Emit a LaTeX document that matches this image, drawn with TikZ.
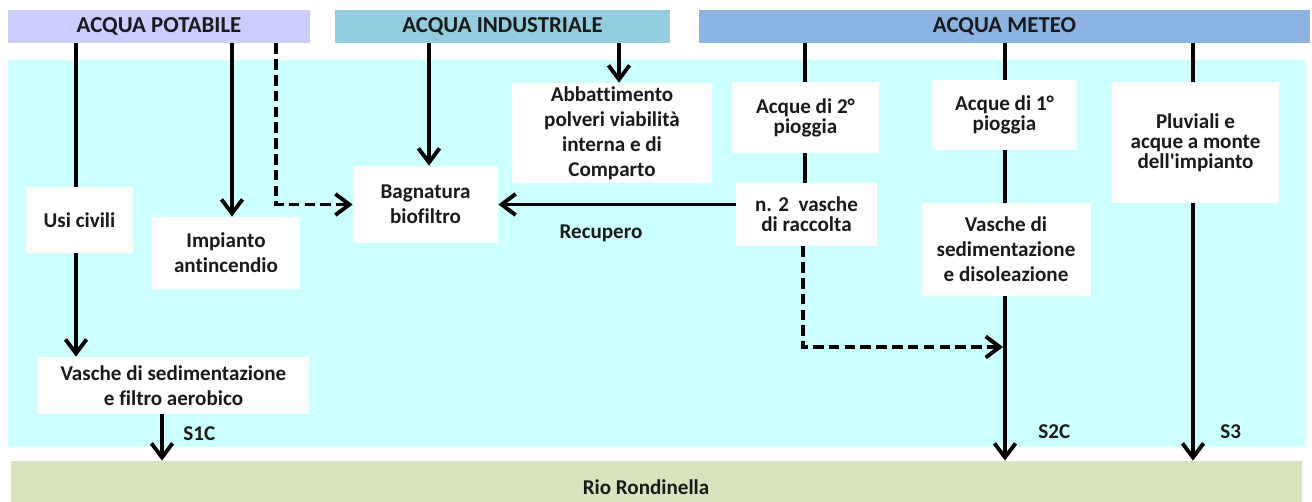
\documentclass[tikz,border=0pt]{standalone}
\usepackage{fontspec}
\setmainfont{Carlito}[Ligatures=NoCommon]
\usetikzlibrary{arrows.meta}
\definecolor{cpot}{HTML}{CCCCFF}
\definecolor{cind}{HTML}{93CDDD}
\definecolor{cmet}{HTML}{8DB3E2}
\definecolor{ccyan}{HTML}{CCFFFF}
\definecolor{crio}{HTML}{D7E4BD}
\definecolor{ctext}{HTML}{1A1A1A}
\begin{document}
\begin{tikzpicture}[x=0.02cm,y=-0.02cm,
  sz/.style 2 args={minimum width={#1*0.02cm}, minimum height={#2*0.02cm}},
  hdr/.style={inner sep=0pt, text=ctext, font=\bfseries\fontsize{13}{15}\selectfont},
  box/.style={fill=white, inner sep=0pt, align=center, text=ctext, font=\bfseries\fontsize{12}{14.2}\selectfont},
  tightbox/.style={box, font=\bfseries\fontsize{12}{11.4}\selectfont},
  lbl/.style={inner sep=0pt, text=ctext, font=\bfseries\fontsize{12}{14}\selectfont},
  plain/.style={line width=2.2pt, black},
  flow/.style={plain, -{Straight Barb[length=8pt,width=12pt]}},
  dsh/.style={dash pattern=on 6pt off 3pt}]
\useasboundingbox (0,0) rectangle (1312,502);
% backgrounds
\fill[ccyan] (8,60) rectangle (1305,447);
\node[hdr, fill=crio, sz={1291}{41}] (rio) at (656.5,481.5) {};
\node[lbl] (riotxt) at (646,487) {Rio Rondinella};
% headers
\node[hdr, fill=cpot, sz={302}{33}] (potabile) at (159,26.5) {ACQUA POTABILE};
\node[hdr, fill=cind, sz={335}{33}] (industriale) at (502.5,26.5) {ACQUA INDUSTRIALE};
\node[hdr, fill=cmet, sz={611}{33}] (meteo) at (1004.5,26.5) {ACQUA METEO};
% boxes
\node[box, sz={107}{66}] (usi) at (79.5,220) {Usi civili};
\node[box, sz={148}{72}] (imp) at (226,253) {Impianto\\antincendio};
\node[box, sz={271}{57}] (filtro) at (173.5,385.5) {Vasche di sedimentazione\\e filtro aerobico};
\node[box, sz={145}{77}] (bagn) at (425.5,204.5) {Bagnatura\\biofiltro};
\node[box, sz={200}{100}] (abb) at (612,133) {Abbattimento\\polveri viabilità\\interna e di\\Comparto};
\node[tightbox, sz={147}{71}] (a2) at (805.5,117.5) {Acque di 2°\\pioggia};
\node[tightbox, sz={141}{63}] (n2) at (806.5,214.5) {n. 2\ \ vasche\\di raccolta};
\node[tightbox, sz={145}{70}] (a1) at (1004.5,115) {Acque di 1°\\pioggia};
\node[box, sz={170}{93}] (vd) at (1006,249.5) {Vasche di\\sedimentazione\\e disoleazione};
\node[tightbox, sz={167}{121}] (pl) at (1195.5,142.5) {Pluviali e\\acque a monte\\dell\textquotesingle impianto};
% x positions of the lines
\coordinate (xU) at (76,0);
\coordinate (xI) at (232,0);
\coordinate (xD) at (276,0);
\coordinate (xB) at (429,0);
\coordinate (xA) at (619,0);
\coordinate (x2) at (805,0);
\coordinate (xd) at (803,0);
\coordinate (x1) at (1005,0);
\coordinate (x3) at (1193,0);
\coordinate (xS) at (162,0);
\coordinate (jn) at (1003,347);
% connectors
\draw[plain] (potabile.south -| xU) -- (usi.north -| xU);
\draw[flow] (usi.south -| xU) -- (filtro.north -| xU);
\draw[flow] (potabile.south -| xI) -- (imp.north -| xI);
\draw[flow, dsh] (potabile.south -| xD) |- (bagn.west);
\draw[flow] (industriale.south -| xB) -- (bagn.north -| xB);
\draw[flow] (industriale.south -| xA) -- (abb.north -| xA);
\draw[plain] (meteo.south -| x2) -- (a2.north -| x2);
\draw[plain] (a2.south -| x2) -- (n2.north -| x2);
\draw[flow] (n2.west |- bagn.east) -- (bagn.east);
\draw[flow, dsh] (n2.south -| xd) |- (jn);
\draw[plain] (meteo.south -| x1) -- (a1.north -| x1);
\draw[plain] (a1.south -| x1) -- (vd.north -| x1);
\draw[flow] (vd.south -| x1) -- (rio.north -| x1);
\draw[plain] (meteo.south -| x3) -- (pl.north -| x3);
\draw[flow] (pl.south -| x3) -- (rio.north -| x3);
\draw[flow] (filtro.south -| xS) -- (rio.north -| xS);
% labels
\node[lbl] (rec) at (601,233) {Recupero};
\node[lbl, anchor=west] (s1c) at (183,434) {S1C};
\node[lbl, anchor=west] (s2c) at (1038,432) {S2C};
\node[lbl, anchor=west] (s3) at (1220,432) {S3};
\end{tikzpicture}
\end{document}
